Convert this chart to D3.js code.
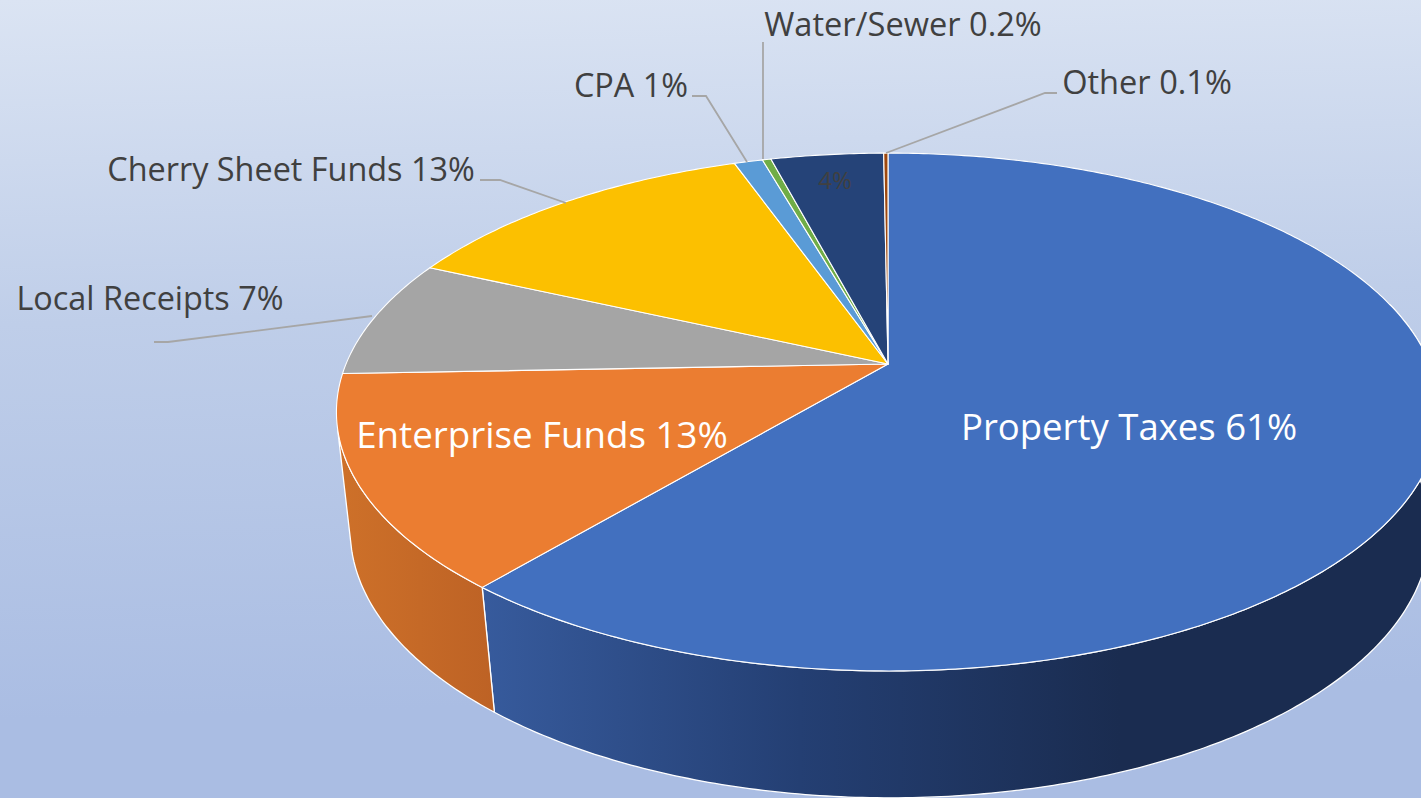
<!DOCTYPE html>
<html>
<head>
<meta charset="utf-8">
<script src="https://cdn.jsdelivr.net/npm/d3@7"></script>
<style>
  html, body { margin: 0; padding: 0; overflow: hidden; background: #c0cfe9; }
  text { font-family: "Open Sans", sans-serif; }
</style>
</head>
<body>
<script>
//******************************************************************************
// Data ************************************************************************

const categories = ["Property Taxes", "Enterprise Funds", "Local Receipts", "Cherry Sheet Funds", "CPA", "Water/Sewer", "Debt", "Other"];
const shares = [61.1, 13.3, 7.4, 12.8, 1.0, 0.3, 3.95, 0.15]; // slice sizes
const shareLabels = ["61%", "13%", "7%", "13%", "1%", "0.2%", "4%", "0.1%"];
const topColors = ["#4270bf", "#eb7d31", "#a5a5a5", "#fcc000", "#5a9bd6", "#70ad47", "#254378", "#9e480e"];

//******************************************************************************
// Settings ********************************************************************

const W = 1421, H = 798;

// the pie disc is drawn through a perspective map, far side squeezed
const topDisc = { cx: 888, cy: 364, a: 542, b: 250, k: 0.1855 };
const bottomDisc = { cx: 890, cy: 482, a: 531, b: 259, k: 0.18 };

// label placement, index matches categories
const labelLayout = [
  { x: 1129, y: 427, size: 36.5, fill: "#fff", anchor: "middle", leader: null },
  { x: 542, y: 435, size: 36.7, fill: "#fff", anchor: "middle", leader: null },
  { x: 150, y: 299, size: 32.4, fill: "#404040", anchor: "middle", leader: [[154, 342], [168, 342], [372, 316]] },
  { x: 291, y: 170, size: 32.4, fill: "#404040", anchor: "middle", leader: [[480, 180], [500, 180], [566, 203]] },
  { x: 631, y: 86, size: 32.4, fill: "#404040", anchor: "middle", leader: [[692, 96], [706, 96], [747, 162]] },
  { x: 903, y: 25, size: 32.6, fill: "#404040", anchor: "middle", leader: [[763, 42], [763, 159]] },
  { x: 835, y: 181, size: 24, fill: "#404040", anchor: "middle", leader: null },
  { x: 1147, y: 83, size: 32.6, fill: "#404040", anchor: "middle", leader: [[1057, 93], [1045, 93], [886, 153]] }
];

//******************************************************************************
// Helpers *********************************************************************

function project(disc, angle) { // angle clockwise from the top of the disc
  const u = Math.sin(angle), v = Math.cos(angle);
  const d = 1 + disc.k * v;
  return [disc.cx + disc.a * u / d, disc.cy - disc.b * v / d];
}

function arcPoints(disc, a0, a1) {
  const n = Math.max(2, Math.ceil(Math.abs(a1 - a0) * 90));
  return d3.range(n + 1).map(i => project(disc, a0 + (a1 - a0) * i / n));
}

const line = d3.line();

//******************************************************************************
// Drawing *********************************************************************

const svg = d3.select("body").append("svg")
  .attr("width", W)
  .attr("height", H)
  .style("display", "block");

const defs = svg.append("defs");

const bg = defs.append("linearGradient")
  .attr("id", "bg")
  .attr("gradientUnits", "userSpaceOnUse")
  .attr("x1", 0).attr("y1", 0)
  .attr("x2", 20).attr("y2", 720);
[["0", "#dbe4f3"], ["0.45", "#bfcee9"], ["1", "#aabde3"]].forEach(s =>
  bg.append("stop").attr("offset", s[0]).attr("stop-color", s[1]));

const blueWall = defs.append("linearGradient")
  .attr("id", "blueWall")
  .attr("gradientUnits", "userSpaceOnUse")
  .attr("x1", 480).attr("y1", 0)
  .attr("x2", 1120).attr("y2", 0);
[["0", "#375b9d"], ["0.5", "#243f73"], ["1", "#1a2c50"]].forEach(s =>
  blueWall.append("stop").attr("offset", s[0]).attr("stop-color", s[1]));

const orangeWall = defs.append("linearGradient")
  .attr("id", "orangeWall")
  .attr("gradientUnits", "userSpaceOnUse")
  .attr("x1", 345).attr("y1", 0)
  .attr("x2", 495).attr("y2", 0);
[["0", "#cd7029"], ["1", "#bd6225"]].forEach(s =>
  orangeWall.append("stop").attr("offset", s[0]).attr("stop-color", s[1]));

svg.append("rect").attr("width", W).attr("height", H).attr("fill", "url(#bg)");

const slices = d3.pie().sort(null).value(d => d)(shares);

// side walls, only the part of the rim that faces the viewer
const wallRange = [
  { i: 0, from: Math.PI * 0.42, fill: "url(#blueWall)" },
  { i: 1, to: Math.PI * 1.42, fill: "url(#orangeWall)" }
];

wallRange.forEach(w => {
  const s = slices[w.i];
  const a0 = w.from !== undefined ? w.from : s.startAngle;
  const a1 = w.to !== undefined ? w.to : s.endAngle;
  const pts = arcPoints(topDisc, a0, a1).concat(arcPoints(bottomDisc, a1, a0));
  svg.append("path")
    .attr("d", line(pts) + "Z")
    .attr("fill", w.fill)
    .attr("stroke", "#fff")
    .attr("stroke-width", 1.3)
    .attr("stroke-linejoin", "round");
});

// top face
const apex = [topDisc.cx, topDisc.cy];
svg.append("g").selectAll("path")
  .data(slices)
  .join("path")
  .attr("d", s => line([apex].concat(arcPoints(topDisc, s.startAngle, s.endAngle))) + "Z")
  .attr("fill", (s, i) => topColors[i])
  .attr("stroke", "#fff")
  .attr("stroke-width", 1.1)
  .attr("stroke-linejoin", "round");

// leader lines
svg.append("g").selectAll("path")
  .data(labelLayout.filter(l => l.leader))
  .join("path")
  .attr("d", l => line(l.leader))
  .attr("fill", "none")
  .attr("stroke", "#a6a6a6")
  .attr("stroke-width", 1.8);

// labels
svg.append("g").selectAll("text")
  .data(categories)
  .join("text")
  .attr("x", (c, i) => labelLayout[i].x)
  .attr("y", (c, i) => labelLayout[i].y)
  .attr("dy", "0.35em")
  .attr("text-anchor", (c, i) => labelLayout[i].anchor)
  .attr("font-size", (c, i) => labelLayout[i].size)
  .attr("fill", (c, i) => labelLayout[i].fill)
  .text((c, i) => c === "Debt" ? shareLabels[i] : c + " " + shareLabels[i]);
</script>
</body>
</html>
